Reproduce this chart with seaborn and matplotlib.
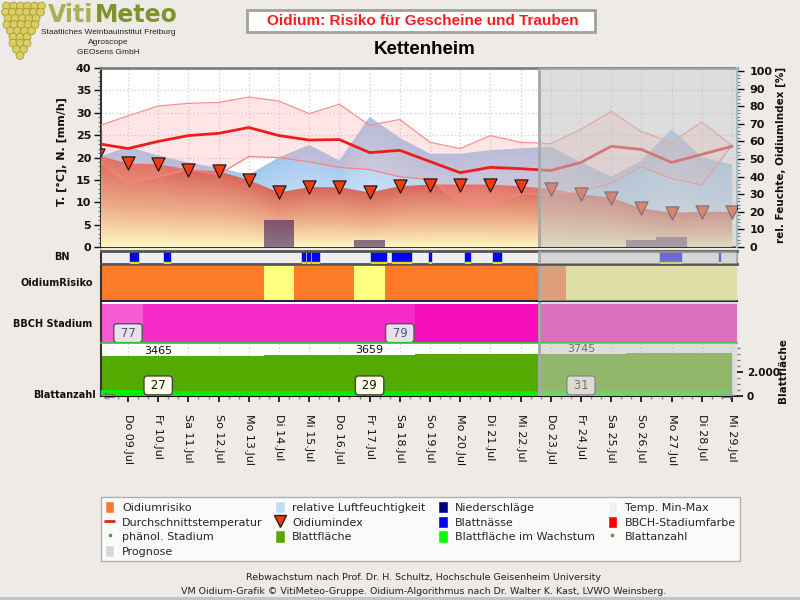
import numpy as np
import seaborn as sns
import matplotlib.pyplot as plt
from matplotlib.colors import LinearSegmentedColormap
from matplotlib.patches import Rectangle, Patch, Circle
from matplotlib.lines import Line2D
from matplotlib.ticker import MultipleLocator
from matplotlib.transforms import blended_transform_factory

sns.set_theme(style="ticks")
plt.rcParams['font.family'] = ['DejaVu Sans']

# ---- Daten: Tag 0 = Do 09.Jul, Tag -1 = Mi 08.Jul ----
tage = list(range(-1, 21))
tick_labels = ["Do 09.Jul", "Fr 10.Jul", "Sa 11.Jul", "So 12.Jul", "Mo 13.Jul", "Di 14.Jul",
               "Mi 15.Jul", "Do 16.Jul", "Fr 17.Jul", "Sa 18.Jul", "So 19.Jul", "Mo 20.Jul",
               "Di 21.Jul", "Mi 22.Jul", "Do 23.Jul", "Fr 24.Jul", "Sa 25.Jul", "So 26.Jul",
               "Mo 27.Jul", "Di 28.Jul", "Mi 29.Jul"]
t_max = [27.0, 29.3, 31.5, 32.1, 32.3, 33.5, 32.6, 29.8, 31.9, 27.2, 28.5,
         23.4, 22.0, 24.9, 23.4, 23.1, 26.3, 30.3, 25.8, 23.4, 27.9, 22.7]
t_min = [19.5, 13.9, 15.7, 17.3, 16.2, 20.2, 20.0, 19.0, 17.8, 17.3, 15.7,
         15.1, 9.9, 9.2, 11.9, 11.7, 12.4, 14.2, 18.0, 15.3, 13.9, 22.7]
t_mittel = [23.1, 22.0, 23.6, 24.9, 25.4, 26.7, 24.9, 23.9, 24.0, 21.1, 21.6,
            19.1, 16.6, 17.8, 17.5, 17.1, 18.9, 22.5, 21.8, 18.9, 20.7, 22.5]
rel_feuchte = [51, 57, 52, 48, 45, 41, 51, 58, 49, 74, 62,
               53, 53, 55, 56, 57, 48, 40, 49, 67, 51, 47]
oidium_index = [52, 47.5, 47, 44, 43, 38, 31, 34, 34, 31, 34.5,
                35.5, 35.5, 35.5, 34.5, 33, 30, 28, 22, 19.5, 20, 20]
niederschlag = [0, 0, 0, 0, 0, 0, 6.1, 0, 0, 1.6, 0,
                0, 0, 0, 0, 0, 0, 0, 1.5, 2.2, 0, 0]
# Blattnässe (Beginn/Ende in Tagen)
bn_start = [0.07, 1.19, 5.76, 5.93, 6.09, 8.05, 8.44, 8.74, 9.97, 11.16, 12.09, 17.62, 19.57]
bn_ende = [0.33, 1.39, 5.86, 6.03, 6.32, 8.41, 8.54, 9.37, 10.02, 11.32, 12.35, 18.31, 19.60]
risiko = ["hoch"] * 6 + ["mittel"] + ["hoch"] * 2 + ["mittel"] + ["hoch"] * 6 + ["mittel"] * 6
bbch_phase = ["a"] * 2 + ["b"] * 9 + ["c"] * 11
bbch_tage = [0, 9]
bbch_werte = [77, 79]
blattflaeche = [3340] * 6 + [3420] * 5 + [3520] * 7 + [3600] * 4
wachstum = [500] * 3 + [420] * 19
blatt_tage = [1, 8, 15]
blatt_flaeche_txt = [3465, 3659, 3745]
blatt_anzahl = [27, 29, 31]
prognose_start = 13.62

W, H = 800, 600


def rect(x0, y0, x1, y1):
    return [x0 / W, 1 - y1 / H, (x1 - x0) / W, (y1 - y0) / H]


def gradient_fill(ax, x, top, cmap, z):
    coll = ax.fill_between(x, 0, top, color='none', lw=0)
    xs = np.linspace(x[0], x[-1], 800)
    ymax = max(top)
    ys = np.linspace(0, ymax, 400)
    top_i = np.interp(xs, x, top)
    frac = np.clip(ys[:, None] / top_i[None, :], 0, 1)
    im = ax.imshow(frac, cmap=cmap, vmin=0, vmax=1, origin='lower', aspect='auto',
                   extent=(x[0], x[-1], 0, ymax), interpolation='bilinear', zorder=z)
    im.set_clip_path(coll.get_paths()[0], transform=ax.transData)


def prognose(ax, z=10):
    ax.axvspan(prognose_start, 21, color='#c2c2c2', alpha=0.55, lw=0, zorder=z)
    ax.axvline(prognose_start, color='#a8a8a8', lw=2, zorder=z + 0.1)


fig = plt.figure(figsize=(8, 6), dpi=100, facecolor='#eeebe6')
xlim = (-0.894, 20.166)

# ---- Hauptdiagramm ----
ax = fig.add_axes(rect(101, 68, 737, 247))
ax.set_facecolor('white')
ax_rh = ax.twinx()
ax_t = ax.twinx()
ax_tri = ax.twinx()

cmap_rh = LinearSegmentedColormap.from_list('rh', ['#e6f0fb', '#a2c8ee'])
cmap_oi = LinearSegmentedColormap.from_list('oi', [(0, '#fff6c2'), (0.45, '#edae8a'), (1, '#d8665a')])
gradient_fill(ax_rh, tage, rel_feuchte, cmap_rh, 1)
gradient_fill(ax_rh, tage, oidium_index, cmap_oi, 2)

ax_t.fill_between(tage, t_min, t_max, color='#ff9a9a', alpha=0.25, lw=0, zorder=1)
sns.lineplot(x=tage, y=t_max, ax=ax_t, color='#ff8c8c', lw=0.9, zorder=2)
sns.lineplot(x=tage, y=t_min, ax=ax_t, color='#ff8080', lw=0.9, zorder=2)
sns.lineplot(x=tage, y=t_mittel, ax=ax_t, color='#ee1c1c', lw=2, zorder=3)
ax_t.bar(tage, niederschlag, width=1.0, color='#200050', alpha=0.52, lw=0, zorder=4)

sns.scatterplot(x=tage, y=oidium_index, ax=ax_tri, marker='v', s=90, color='#f23a0e',
                edgecolor='#111111', linewidth=0.8, zorder=5)
prognose(ax_tri)

ax.set_ylim(0, 40)
ax_t.set_ylim(0, 40)
ax_rh.set_ylim(0, 101.7)
ax_tri.set_ylim(0, 101.7)
ax.set_xlim(*xlim)

ax.set_yticks(range(0, 41, 5), [str(v) for v in range(0, 41, 5)], fontweight='bold', fontsize=8)
ax.yaxis.set_minor_locator(MultipleLocator(1))
ax.tick_params(axis='y', which='major', length=5, width=1, pad=2, colors='#111111')
ax.tick_params(axis='y', which='minor', length=2.5, width=0.8, color='#777777')
ax.tick_params(axis='x', which='both', length=0, labelbottom=False)
ax.set_xticks(range(0, 21))
ax.grid(True, which='major', color='#d4d4d4', ls=':', lw=1)

ax_rh.set_yticks(range(0, 101, 10), [str(v) for v in range(0, 101, 10)], fontweight='bold', fontsize=8)
ax_rh.yaxis.set_minor_locator(MultipleLocator(2))
ax_rh.tick_params(axis='y', which='major', length=5, width=1, pad=4, colors='#111111')
ax_rh.tick_params(axis='y', which='minor', length=2.5, width=0.8, color='#777777')
for a in (ax_t, ax_tri):
    a.set_yticks([])
    a.set_ylabel('')
    for s in a.spines.values():
        s.set_visible(False)
for s in ('left', 'top', 'bottom'):
    ax_rh.spines[s].set_visible(False)
ax_rh.spines['right'].set_color('#9cb8dc')
ax_rh.spines['right'].set_linewidth(1.5)
ax.spines['right'].set_visible(False)
ax.spines['top'].set_color('#808080')
ax.spines['top'].set_linewidth(2)
ax.spines['left'].set_color('#333333')
ax.spines['left'].set_linewidth(1.5)
ax.spines['bottom'].set_color('#111111')
ax.spines['bottom'].set_linewidth(1.2)

# ---- Blattnässe ----
ax_bn = fig.add_axes(rect(101, 251, 737, 264), sharex=ax)
ax_bn.set_facecolor('#efefef')
bn = [(s, e - s) for s, e in zip(bn_start, bn_ende)]
ax_bn.broken_barh(bn, (0, 1), color='#0000ff', zorder=2)
ax_bn.broken_barh(bn, (0, 0.12), color='#ecdc00', zorder=3)
ax_bn.set_ylim(0, 1)
prognose(ax_bn)

# ---- Oidiumrisiko ----
ax_ri = fig.add_axes(rect(101, 266, 737, 301), sharex=ax)
risiko_farben = {"hoch": '#fd7b28', "mittel": '#ffff80'}
ax_ri.bar(tage, [1] * len(tage), width=1.0, color=[risiko_farben[r] for r in risiko], lw=0)
ax_ri.set_ylim(0, 1)
prognose(ax_ri)

# ---- BBCH ----
ax_bb = fig.add_axes(rect(101, 302, 737, 343), sharex=ax)
ax_bb.set_facecolor('white')
bbch_farben = {"a": '#f65ad5', "b": '#f52ac7', "c": '#f50cba'}
ax_bb.bar(tage, [0.95] * len(tage), width=1.0, color=[bbch_farben[p] for p in bbch_phase], lw=0)
ax_bb.set_ylim(0, 1)
tr_bb = blended_transform_factory(ax_bb.transData, ax_bb.transAxes)
for d, v in zip(bbch_tage, bbch_werte):
    ax_bb.text(d, 0.24, f" {v} ", transform=tr_bb, ha='center', va='center', fontsize=8.5,
               color='#555577', zorder=5,
               bbox=dict(boxstyle='round,pad=0.25,rounding_size=0.3', fc='#e8e0ec', ec='#555555', lw=1))
prognose(ax_bb)

# ---- Blattfläche ----
ax_lf = fig.add_axes(rect(101, 343, 737, 396), sharex=ax)
ax_lf.set_facecolor('white')
ax_lf.fill_between(tage, 0, blattflaeche, step='mid', color='#55aa00', lw=0, zorder=2)
ax_lf.fill_between(tage, 0, wachstum, step='mid', color='#00f000', lw=0, zorder=3)
ax_lf.set_ylim(0, 4417)
ax_lf.grid(True, axis='x', color='#d0d0d0', ls=':', lw=1)
ax_lf.yaxis.tick_right()
ax_lf.set_yticks([0, 2000], ['0', '2.000'], fontweight='bold', fontsize=7.5)
ax_lf.yaxis.set_minor_locator(MultipleLocator(500))
ax_lf.tick_params(axis='y', which='major', length=4, pad=3, colors='#111111')
ax_lf.tick_params(axis='y', which='minor', length=2, color='#777777')
ax_lf.set_xticks(range(0, 21), tick_labels, rotation=-90, fontsize=8)
ax_lf.xaxis.set_minor_locator(MultipleLocator(1 / 3))
ax_lf.tick_params(axis='x', which='major', length=4, pad=9, colors='#111111')
ax_lf.tick_params(axis='x', which='minor', length=2.5, color='#888888')
tr_lf = blended_transform_factory(ax_lf.transData, ax_lf.transAxes)
for d, f, n in zip(blatt_tage, blatt_flaeche_txt, blatt_anzahl):
    ax_lf.text(d, blattflaeche[tage.index(d)], str(f), ha='center', va='bottom', fontsize=8,
               color='#111111', zorder=5)
    ax_lf.text(d, 0.2, f" {n} ", transform=tr_lf, ha='center', va='center', fontsize=8.5,
               color='#111111', zorder=5,
               bbox=dict(boxstyle='round,pad=0.25,rounding_size=0.3', fc='#fffde6', ec='#444444', lw=1))
ax_lf.text(0.012, 0.0, '⇦', transform=ax_lf.transAxes, ha='center', va='center', fontsize=12,
           color='#666666', zorder=6)
ax_lf.text(0.985, 0.0, '⇨', transform=ax_lf.transAxes, ha='center', va='center', fontsize=12,
           color='#666666', zorder=6)
prognose(ax_lf)

for a in (ax_bn, ax_ri, ax_bb, ax_lf):
    a.set_xlim(*xlim)
    for s in a.spines.values():
        s.set_visible(False)
    a.spines['left'].set_visible(True)
    a.spines['left'].set_color('#333333')
    a.spines['left'].set_linewidth(1.5)
for a in (ax_bn, ax_ri, ax_bb):
    a.set_yticks([])
    a.tick_params(axis='x', which='both', length=0, labelbottom=False)
ax_bn.spines['top'].set_visible(True)
ax_bn.spines['bottom'].set_visible(True)
ax_bn.spines['top'].set_color('#555555')
ax_bn.spines['bottom'].set_color('#555555')
ax_bn.spines['top'].set_linewidth(2)
ax_bn.spines['bottom'].set_linewidth(2)
ax_bn.spines['right'].set_visible(True)
ax_bn.spines['right'].set_color('#999999')
ax_ri.spines['bottom'].set_visible(True)
ax_ri.spines['bottom'].set_color('#1c2a4a')
ax_ri.spines['bottom'].set_linewidth(1.5)
ax_lf.spines['top'].set_visible(True)
ax_lf.spines['top'].set_color('#33cc33')
ax_lf.spines['bottom'].set_visible(True)
ax_lf.spines['bottom'].set_color('#111111')
ax_lf.spines['bottom'].set_linewidth(1.5)

# ---- Beschriftungen ----
lab = dict(fontweight='bold', color='#111111')
fig.text(62 / W, 1 - 152 / H, 'T. [°C], N. [mm/h]', rotation=90, ha='center', va='center', fontsize=8, **lab)
fig.text(781 / W, 1 - 155 / H, 'rel. Feuchte, OidiumIndex [%]', rotation=90, ha='center', va='center',
         fontsize=7.5, **lab)
fig.text(783 / W, 1 - 371 / H, 'Blattfläche', rotation=90, ha='center', va='center', fontsize=7.5, **lab)
fig.text(62 / W, 1 - 257 / H, 'BN', ha='center', va='center', fontsize=7, **lab)
fig.text(57 / W, 1 - 283 / H, 'OidiumRisiko', ha='center', va='center', fontsize=7, **lab)
fig.text(53 / W, 1 - 324 / H, 'BBCH Stadium', ha='center', va='center', fontsize=7, **lab)
fig.text(65 / W, 1 - 395 / H, 'Blattanzahl', ha='center', va='center', fontsize=7, **lab)

# Titel
fig.add_artist(Rectangle((247 / W, 1 - 32 / H), 348 / W, 22 / H, transform=fig.transFigure,
                         fc='white', ec='#a0a0a0', lw=2))
fig.text(423 / W, 1 - 21 / H, 'Oidium: Risiko für Gescheine und Trauben', ha='center', va='center',
         fontsize=11, fontweight='bold', color='#ff1a1a', family='Liberation Sans')
fig.text(425 / W, 1 - 49 / H, 'Kettenheim', ha='center', va='center', fontsize=13.5,
         fontweight='bold', color='#000000', family='Liberation Sans')

# Logo
ax_logo = fig.add_axes([0, 1 - 64 / H, 50 / W, 64 / H])
ax_logo.set_xlim(0, 50)
ax_logo.set_ylim(64, 0)
ax_logo.axis('off')
reihen = [6, 6, 5, 5, 4, 3, 3, 2, 1]
mitten = [24, 23, 22, 21, 21, 20, 20, 20, 20]
for i, (n, m) in enumerate(zip(reihen, mitten)):
    for k in range(n):
        cx = m + (k - (n - 1) / 2) * 7
        ax_logo.add_patch(Circle((cx, 6 + 6.2 * i), 3.9, fc='#dccf62', ec='#a89a3a', lw=0.6))
fig.text(48 / W, 1 - 15 / H, 'Viti', ha='left', va='center', fontsize=17, fontweight='bold', color='#a4b454')
fig.text(95 / W, 1 - 15 / H, 'Meteo', ha='left', va='center', fontsize=17, fontweight='bold', color='#7f9330')
for txt, yy in [('Staatliches Weinbauinstitut Freiburg', 33), ('Agroscope', 43), ('GEOsens GmbH', 53)]:
    fig.text(108 / W, 1 - yy / H, txt, ha='center', va='center', fontsize=6, color='#222222',
             family='Liberation Sans')

# Legende
handles = [
    Patch(fc='#fd7b28', label='Oidiumrisiko'),
    Line2D([], [], color='#ee1c1c', lw=2, label='Durchschnittstemperatur'),
    Line2D([], [], ls='none', marker='s', ms=2, color='#6a8a6a', label='phänol. Stadium'),
    Patch(fc='#d6d6d6', label='Prognose'),
    Patch(fc='#c2dbf3', label='relative Luftfeuchtigkeit'),
    Line2D([], [], ls='none', marker='v', ms=8, mfc='#f23a0e', mec='#222222', label='Oidiumindex'),
    Patch(fc='#55aa00', label='Blattfläche'),
    Patch(fc='#000080', label='Niederschläge'),
    Patch(fc='#0000ff', label='Blattnässe'),
    Patch(fc='#00ff00', label='Blattfläche im Wachstum'),
    Patch(fc='#f0f0f0', label='Temp. Min-Max'),
    Patch(fc='#ff0000', label='BBCH-Stadiumfarbe'),
    Line2D([], [], ls='none', marker='s', ms=2, color='#6a8a6a', label='Blattanzahl'),
]
leg = fig.legend(handles=handles, ncol=4, loc='upper left', mode='expand',
                 bbox_to_anchor=(101 / W, 1 - 563 / H, 639 / W, 66 / H), fontsize=8,
                 frameon=True, fancybox=False, edgecolor='#a0a0a0', borderaxespad=0,
                 handlelength=0.85, handleheight=1.35, handletextpad=0.7, labelspacing=0.2,
                 borderpad=0.35, columnspacing=0.5)
leg.get_frame().set_linewidth(1)

fig.text(424 / W, 1 - 578 / H, 'Rebwachstum nach Prof. Dr. H. Schultz, Hochschule Geisenheim University',
         ha='center', va='center', fontsize=6.8, color='#222222')
fig.text(424 / W, 1 - 591 / H,
         'VM Oidium-Grafik © VitiMeteo-Gruppe. Oidium-Algorithmus nach Dr. Walter K. Kast, LVWO Weinsberg.',
         ha='center', va='center', fontsize=6.8, color='#222222')
fig.add_artist(Rectangle((0, 0), 1, 3 / H, transform=fig.transFigure, fc='#c4c4c4', lw=0))

fig.savefig('out.png', dpi=100, facecolor=fig.get_facecolor())
